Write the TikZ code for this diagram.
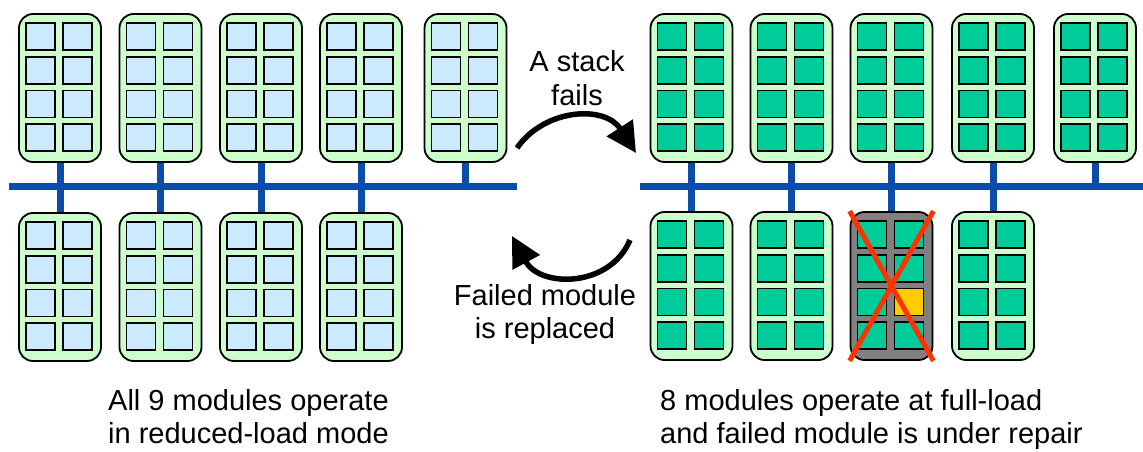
\documentclass[tikz,border=0pt]{standalone}
\usepackage{fontspec}
\setmainfont{Liberation Sans}
\usetikzlibrary{calc,arrows.meta}
\definecolor{modgreen}{RGB}{204,255,204}
\definecolor{cellblue}{RGB}{204,234,255}
\definecolor{cellteal}{RGB}{0,204,153}
\definecolor{busblue}{RGB}{12,76,170}
\definecolor{failgray}{RGB}{128,128,128}
\definecolor{failyellow}{RGB}{255,204,0}
\definecolor{xred}{RGB}{255,51,0}
\tikzset{
  module/.style={draw=black, line width=1.8pt, fill=modgreen, rounded corners=14pt,
    minimum width=82pt, minimum height=148pt, inner sep=0pt},
  failmod/.style={module, fill=failgray},
  cellbox/.style={draw=black, line width=1.6pt},
  bus/.style={draw=busblue, line width=7pt},
  stub/.style={draw=busblue, line width=7pt},
  bigarrow/.style={line width=5.5pt, -{Triangle[length=30pt,width=30pt]}},
  lbl/.style={font=\fontsize{29}{33}\selectfont, inner sep=0pt},
  xline/.style={draw=xred, line width=5pt}
}
\newcommand{\cellsof}[2]{%
  \foreach \cc in {0,1}{\foreach \rr in {0,1,2,3}{%
    \draw[cellbox, fill=#2] ($(#1.north west)+(8+37*\cc,10+33.67*\rr)$) rectangle ++(29,27);}}}
\begin{document}
\begin{tikzpicture}[x=1pt,y=-1pt]
\useasboundingbox (0,0) rectangle (1143,452);
% buses
\coordinate (busLa) at (9,186.5);
\coordinate (busLb) at (517,186.5);
\coordinate (busRa) at (640,186);
\coordinate (busRb) at (1143,186);
% left modules
\foreach \n/\x in {1/60,2/160.5,3/261,4/361,5/465.5}{
  \node[module] (LT\n) at (\x,88) {};
  \cellsof{LT\n}{cellblue}
}
\foreach \n/\x in {1/60,2/160.5,3/261,4/361}{
  \node[module] (LB\n) at (\x,287) {};
  \cellsof{LB\n}{cellblue}
}
% right modules
\foreach \n/\x in {1/691.5,2/791.5,3/891.5,4/993,5/1095}{
  \node[module] (RT\n) at (\x,88) {};
  \cellsof{RT\n}{cellteal}
}
\foreach \n/\x in {1/691.5,2/791.5,4/993}{
  \node[module] (RB\n) at (\x,286) {};
  \cellsof{RB\n}{cellteal}
}
\node[failmod] (RB3) at (891.5,286) {};
\cellsof{RB3}{cellteal}
\draw[cellbox, fill=failyellow] ($(RB3.north west)+(45,77.34)$) rectangle ++(29,27);
\draw[xline] (RB3.north west) -- (RB3.south east);
\draw[xline] (RB3.north east) -- (RB3.south west);
% bus lines
\draw[bus] (busLa) -- (busLb);
\draw[bus] (busRa) -- (busRb);
% stubs
\foreach \n in {1,2,3,4}{
  \draw[stub] (LT\n.south) -- (LB\n.north);
  \draw[stub] (RT\n.south) -- (RB\n.north);
}
\draw[stub] (LT5.south) -- ($(LT5.south |- busLa)+(0,3.5)$);
\draw[stub] (RT5.south) -- ($(RT5.south |- busRa)+(0,3.5)$);
% arrows
\coordinate (a1s) at (517,148);
\coordinate (a1e) at (636,153);
\draw[bigarrow] (a1s) .. controls (545,108) and (605,105) .. (a1e);
\coordinate (a2s) at (630,240);
\coordinate (a2e) at (512,236);
\draw[bigarrow] (a2s) .. controls (610,288) and (540,288) .. (a2e);
% labels (base anchor = baseline of the last line)
\node[lbl, align=center, anchor=base] (t1) at (577,105) {A stack\\fails};
\node[lbl, align=center, anchor=base] (t2) at (545,338) {Failed module\\is replaced};
\node[lbl, align=left, anchor=base west] (t3) at (108,443) {All 9 modules operate\\in reduced-load mode};
\node[lbl, align=left, anchor=base west] (t4) at (660,443) {8 modules operate at full-load\\and failed module is under repair};
\end{tikzpicture}
\end{document}
